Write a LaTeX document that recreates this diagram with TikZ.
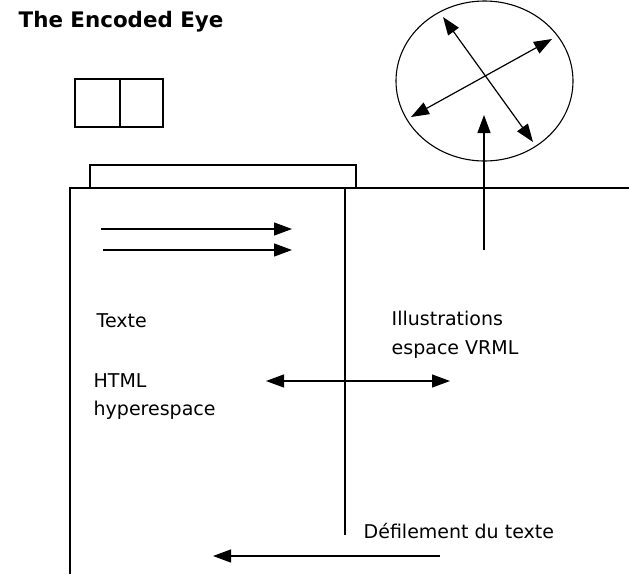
\documentclass[tikz,border=0pt]{standalone}
\usepackage{fontspec}
\setmainfont{DejaVu Sans}
\usetikzlibrary{arrows.meta}

\begin{document}
\begin{tikzpicture}[x=1pt, y=-1pt, line width=1.4pt,
    >={Triangle[length=18pt,width=13pt]},
    lbl/.style={anchor=base west, inner sep=0pt, font=\fontsize{19}{22}\selectfont},
    flow/.style={->, line width=1.2pt}]
    \useasboundingbox (0,0) rectangle (629,574);

    % Title
    \node[anchor=base west, inner sep=0pt, font=\bfseries\fontsize{21.4}{24}\selectfont] (title) at (18,27) {The Encoded Eye};

    % Two-pane window icon
    \draw (75,79) rectangle (163,127);
    \draw (120,79) -- (120,127);

    % Page frame with its tab
    \draw (90,188) -- (90,165) -- (356,165) -- (356,188);
    \draw (70,574) -- (70,188) -- (629,188);
    \draw (345,188) -- (345,535);

    % VRML sphere
    \draw[line width=1.1pt] (484.5,81) ellipse [x radius=88.5pt, y radius=80pt];
    \coordinate (sA) at (443,17);  \coordinate (sB) at (533,142);
    \coordinate (sC) at (552,39);  \coordinate (sD) at (411,117);
    \draw[flow, <->] (sA) -- (sB);
    \draw[flow, <->] (sC) -- (sD);
    \coordinate (lift) at (484,250);  \coordinate (sphere) at (484,115);
    \draw[flow] (lift) -- (sphere);

    % Text lines
    \coordinate (l1a) at (101,229);  \coordinate (l1b) at (292,229);
    \coordinate (l2a) at (103,250);  \coordinate (l2b) at (292,250);
    \draw[flow] (l1a) -- (l1b);
    \draw[flow] (l2a) -- (l2b);

    % Labels
    \node[lbl] (texte) at (96,327) {Texte};
    \node[lbl] (html)  at (93,387) {HTML};
    \node[lbl] (hyper) at (93,415) {hyperespace};
    \node[lbl] (illus) at (391,325) {Illustrations};
    \node[lbl] (vrml)  at (391,354) {espace VRML};
    \node[lbl] (scroll) at (363,538) {Défilement du texte};

    % Links between the two panes
    \coordinate (hl) at (266,381);  \coordinate (hr) at (450,381);
    \draw[flow, <->] (hl) -- (hr);
    \coordinate (sc1) at (440,556);  \coordinate (sc2) at (213,556);
    \draw[flow] (sc1) -- (sc2);
\end{tikzpicture}
\end{document}
